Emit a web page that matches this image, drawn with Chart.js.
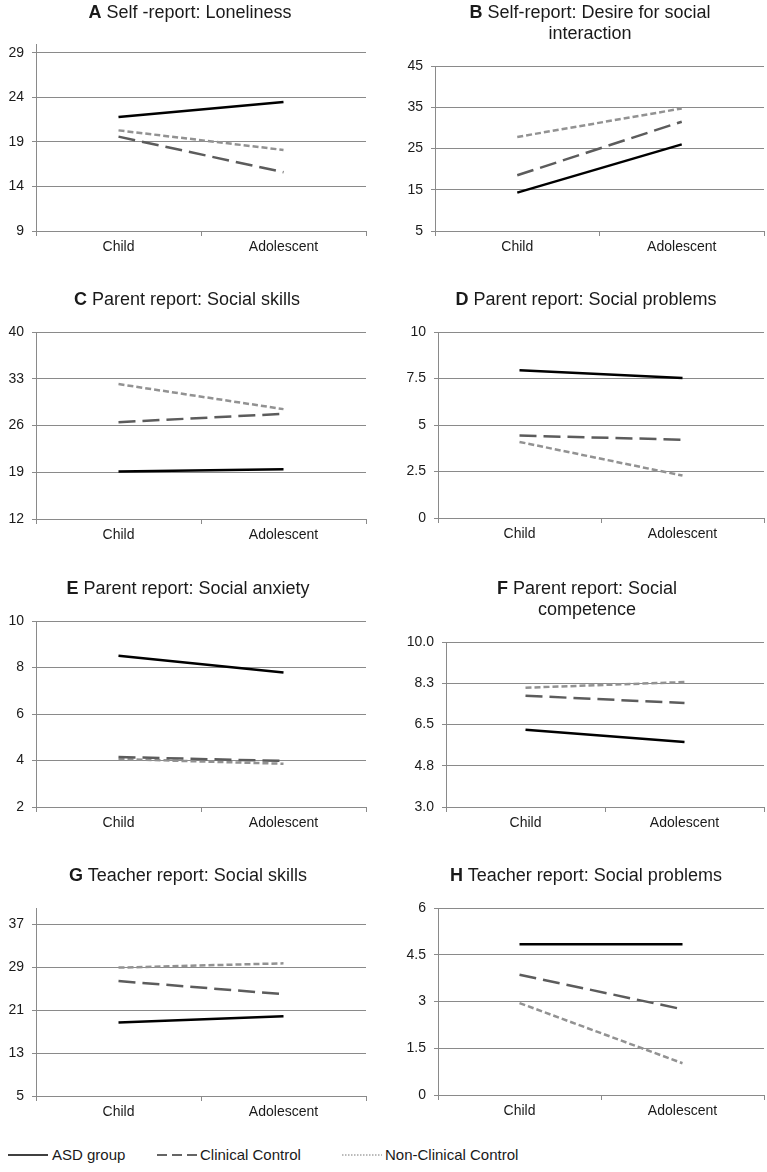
<!DOCTYPE html>
<html>
<head>
<meta charset="utf-8">
<script src="https://cdn.jsdelivr.net/npm/chart.js@4.4.1/dist/chart.umd.min.js"></script>
<style>
  html, body { margin: 0; padding: 0; background: #fff; }
  #page { position: relative; width: 767px; height: 1172px; overflow: hidden;
    font-family: 'Liberation Sans', Arial, sans-serif; color: #1a1a1a; }
  canvas { position: absolute; }
  .title { position: absolute; font-size: 18px; line-height: 21px; white-space: nowrap;
    text-align: center; transform: translateX(-50%); }
  .legend { position: absolute; top: 1146px; font-size: 15px; line-height: 18px; white-space: nowrap; }
  .legend svg { position: absolute; }
</style>
</head>
<body>
<div id="page"></div>
<script>
const categories = ['Child', 'Adolescent']
const groups = ['ASD group', 'Clinical Control', 'Non-Clinical Control']

// A Self-report: Loneliness
const lonelinessAsd = [21.8, 23.5]
const lonelinessClinical = [19.6, 15.6]
const lonelinessNonClinical = [20.3, 18.1]
const lonelinessTicks = [9, 14, 19, 24, 29]

// B Self-report: Desire for social interaction
const desireAsd = [14.3, 26.0]
const desireClinical = [18.5, 31.5]
const desireNonClinical = [27.8, 34.7]
const desireTicks = [5, 15, 25, 35, 45]

// C Parent report: Social skills
const parentSkillsAsd = [19.1, 19.45]
const parentSkillsClinical = [26.5, 27.75]
const parentSkillsNonClinical = [32.2, 28.45]
const parentSkillsTicks = [12, 19, 26, 33, 40]

// D Parent report: Social problems
const parentProblemsAsd = [7.94, 7.53]
const parentProblemsClinical = [4.43, 4.21]
const parentProblemsNonClinical = [4.09, 2.28]
const parentProblemsTicks = [0, 2.5, 5, 7.5, 10]

// E Parent report: Social anxiety
const anxietyAsd = [8.51, 7.78]
const anxietyClinical = [4.15, 3.98]
const anxietyNonClinical = [4.06, 3.86]
const anxietyTicks = [2, 4, 6, 8, 10]

// F Parent report: Social competence
const competenceAsd = [6.28, 5.76]
const competenceClinical = [7.72, 7.41]
const competenceNonClinical = [8.06, 8.30]
const competenceTicks = [3, 4.75, 6.5, 8.25, 10]

// G Teacher report: Social skills
const teacherSkillsAsd = [18.67, 19.85]
const teacherSkillsClinical = [26.4, 23.96]
const teacherSkillsNonClinical = [28.9, 29.7]
const teacherSkillsTicks = [5, 13, 21, 29, 37]

// H Teacher report: Social problems
const teacherProblemsAsd = [4.84, 4.84]
const teacherProblemsClinical = [3.86, 2.75]
const teacherProblemsNonClinical = [2.95, 1.02]
const teacherProblemsTicks = [0, 1.5, 3, 4.5, 6]

const gridColor = '#8a8a8a'
const textColor = '#1a1a1a'
const styles = [
  { color: '#000000', dash: [] },
  { color: '#5c5c5c', dash: [17, 7] },
  { color: '#929292', dash: [6, 3] }
]

const panels = [
  { letter: 'A', title: ['Self -report: Loneliness'], series: [lonelinessAsd, lonelinessClinical, lonelinessNonClinical],
    ticks: lonelinessTicks, max: 30, decimals: -1,
    box: { x0: 0, y0: 0, w: 383, h: 270, axisX: 36, right: 366, top: 44, bottom: 231, tx: 190, ty: 12.2 } },
  { letter: 'B', title: ['Self-report: Desire for social', 'interaction'], series: [desireAsd, desireClinical, desireNonClinical],
    ticks: desireTicks, max: 45, decimals: -1,
    box: { x0: 383, y0: 0, w: 384, h: 270, axisX: 435, right: 764, top: 66, bottom: 231, tx: 590, ty: 12.2 } },
  { letter: 'C', title: ['Parent report: Social skills'], series: [parentSkillsAsd, parentSkillsClinical, parentSkillsNonClinical],
    ticks: parentSkillsTicks, max: 40, decimals: -1,
    box: { x0: 0, y0: 270, w: 383, h: 280, axisX: 36, right: 366, top: 332, bottom: 519, tx: 187, ty: 299.7 } },
  { letter: 'D', title: ['Parent report: Social problems'], series: [parentProblemsAsd, parentProblemsClinical, parentProblemsNonClinical],
    ticks: parentProblemsTicks, max: 10, decimals: -1,
    box: { x0: 383, y0: 270, w: 384, h: 280, axisX: 438, right: 764, top: 332, bottom: 518, tx: 586, ty: 299.7 } },
  { letter: 'E', title: ['Parent report: Social anxiety'], series: [anxietyAsd, anxietyClinical, anxietyNonClinical],
    ticks: anxietyTicks, max: 10, decimals: -1,
    box: { x0: 0, y0: 550, w: 383, h: 290, axisX: 36, right: 366, top: 621, bottom: 807, tx: 188, ty: 587.8 } },
  { letter: 'F', title: ['Parent report: Social', 'competence'], series: [competenceAsd, competenceClinical, competenceNonClinical],
    ticks: competenceTicks, max: 10, decimals: 1,
    box: { x0: 383, y0: 550, w: 384, h: 290, axisX: 446, right: 764, top: 642, bottom: 807, tx: 587, ty: 587.8 } },
  { letter: 'G', title: ['Teacher report: Social skills'], series: [teacherSkillsAsd, teacherSkillsClinical, teacherSkillsNonClinical],
    ticks: teacherSkillsTicks, max: 40, decimals: -1,
    box: { x0: 0, y0: 840, w: 383, h: 290, axisX: 36, right: 366, top: 908, bottom: 1096, tx: 188, ty: 875.5 } },
  { letter: 'H', title: ['Teacher report: Social problems'], series: [teacherProblemsAsd, teacherProblemsClinical, teacherProblemsNonClinical],
    ticks: teacherProblemsTicks, max: 6, decimals: -1,
    box: { x0: 383, y0: 840, w: 384, h: 290, axisX: 438, right: 764, top: 908, bottom: 1095, tx: 586, ty: 875.5 } }
]

const page = document.getElementById('page')
const font = { family: "'Liberation Sans', Arial, sans-serif", size: 14 }

panels.forEach(p => {
  const b = p.box
  const canvas = document.createElement('canvas')
  canvas.width = b.w
  canvas.height = b.h
  canvas.style.left = b.x0 + 'px'
  canvas.style.top = b.y0 + 'px'
  page.appendChild(canvas)

  const title = document.createElement('div')
  title.className = 'title'
  title.style.left = b.tx + 'px'
  title.style.top = (b.ty - 10.3) + 'px'
  title.innerHTML = '<b>' + p.letter + '</b> ' + p.title.join('<br>')
  page.appendChild(title)

  new Chart(canvas.getContext('2d'), {
    type: 'line',
    data: {
      labels: categories,
      datasets: p.series.map((values, i) => ({
        label: groups[i],
        data: values,
        borderColor: styles[i].color,
        borderDash: styles[i].dash,
        borderWidth: 2.5,
        pointRadius: 0,
        fill: false,
        tension: 0
      }))
    },
    options: {
      responsive: false,
      animation: false,
      layout: { padding: { top: b.top - b.y0, right: b.x0 + b.w - b.right, left: 0, bottom: 0 } },
      plugins: { legend: { display: false }, tooltip: { enabled: false } },
      scales: {
        x: {
          offset: true,
          grid: { offset: true, drawOnChartArea: false, tickLength: 5, color: gridColor },
          border: { color: gridColor },
          ticks: { padding: 3, font: font, color: textColor, maxRotation: 0 },
          afterFit(s) { s.height = b.y0 + b.h - b.bottom }
        },
        y: {
          min: p.ticks[0],
          max: p.max,
          grid: { tickLength: 4, color: gridColor },
          border: { color: gridColor },
          ticks: {
            padding: 8, font: font, color: textColor, autoSkip: false,
            callback: v => p.decimals >= 0 ? v.toFixed(p.decimals) : String(v)
          },
          afterBuildTicks(s) { s.ticks = p.ticks.map(v => ({ value: v })) },
          afterFit(s) { s.width = b.axisX - b.x0 }
        }
      }
    }
  })
})

// shared legend
const legendItems = [
  { x: 8, textX: 52, dash: '', color: '#000', width: 1.5 },
  { x: 157, textX: 200, dash: '10,5', color: '#333', width: 1.5 },
  { x: 342, textX: 385, dash: '1.5,1.5', color: '#777', width: 1 }
]
legendItems.forEach((item, i) => {
  const el = document.createElement('div')
  el.className = 'legend'
  el.style.left = item.textX + 'px'
  el.textContent = groups[i]
  page.appendChild(el)
  const svg = document.createElementNS('http://www.w3.org/2000/svg', 'svg')
  svg.setAttribute('width', '40')
  svg.setAttribute('height', '6')
  svg.style.position = 'absolute'
  svg.style.left = item.x + 'px'
  svg.style.top = '1152px'
  svg.innerHTML = '<line x1="0" y1="3" x2="40" y2="3" stroke="' + item.color + '" stroke-width="' + item.width +
    '"' + (item.dash ? ' stroke-dasharray="' + item.dash + '"' : '') + '/>'
  page.appendChild(svg)
})
</script>
</body>
</html>
